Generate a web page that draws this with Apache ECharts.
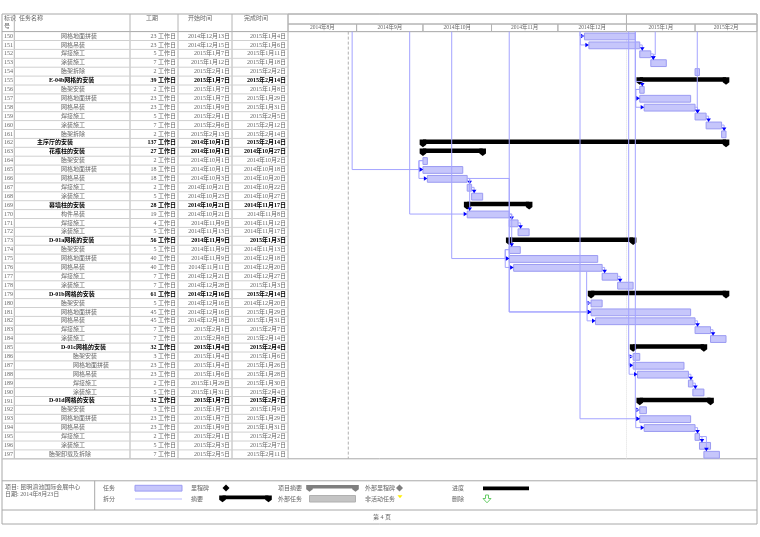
<!DOCTYPE html>
<html>
<head>
<meta charset="utf-8">
<title>甘特图</title>
<script src="https://cdn.jsdelivr.net/npm/echarts@6.0.0/dist/echarts.min.js"></script>
<style>
html, body { margin: 0; padding: 0; background: #fff; }
#c1 { width: 760px; height: 537px; }
</style>
</head>
<body>
<div id="c1"></div>
<script>
// task table, as read from the print
var ids = [150,151,152,153,154,155,156,157,158,159,160,161,162,163,164,165,166,167,168,169,170,171,172,173,
           174,175,176,177,178,179,180,181,182,183,184,185,186,187,188,189,190,191,192,193,194,195,196,197];
var names = ['网格地面拼装','网格吊装','焊接施工','涂装施工','胎架拆除','E-04b网格的安装','胎架安装','网格地面拼装',
             '网格吊装','焊接施工','涂装施工','胎架拆除','主序厅的安装','花瓶柱的安装','胎架安装','网格地面拼装',
             '网格吊装','焊接施工','涂装施工','幕墙柱的安装','构件吊装','焊接施工','涂装施工','D-01a网格的安装',
             '胎架安装','网格地面拼装','网格吊装','焊接施工','涂装施工','D-01b网格的安装','胎架安装','网格地面拼装',
             '网格吊装','焊接施工','涂装施工','D-01c网格的安装','胎架安装','网格地面拼装','网格吊装','焊接施工',
             '涂装施工','D-01d网格的安装','胎架安装','网格地面拼装','网格吊装','焊接施工','涂装施工','胎架卸载及拆除'];
var levels = [3,3,3,3,3,2,3,3,3,3,3,3,1,2,3,3,3,3,3,2,3,3,3,2,
              3,3,3,3,3,2,3,3,3,3,3,3,4,4,4,4,4,2,3,3,3,3,3,2];
var summary = [0,0,0,0,0,1,0,0,0,0,0,0,1,1,0,0,0,0,0,1,0,0,0,1,
               0,0,0,0,0,1,0,0,0,0,0,1,0,0,0,0,0,1,0,0,0,0,0,0];
var durations = [23,23,5,7,2,39,2,23,23,5,7,2,137,27,2,18,18,2,5,28,19,4,5,56,
                 5,40,40,7,7,61,5,45,45,7,7,32,3,23,23,2,5,32,3,23,23,2,5,7];
var starts = ['2014-12-13','2014-12-15','2015-01-07','2015-01-12','2015-02-01','2015-01-07','2015-01-07','2015-01-07',
              '2015-01-09','2015-02-01','2015-02-06','2015-02-13','2014-10-01','2014-10-01','2014-10-01','2014-10-01',
              '2014-10-03','2014-10-21','2014-10-23','2014-10-21','2014-10-21','2014-11-09','2014-11-13','2014-11-09',
              '2014-11-09','2014-11-09','2014-11-11','2014-12-21','2014-12-28','2014-12-16','2014-12-16','2014-12-16',
              '2014-12-18','2015-02-01','2015-02-08','2015-01-04','2015-01-04','2015-01-04','2015-01-06','2015-01-29',
              '2015-01-31','2015-01-07','2015-01-07','2015-01-07','2015-01-09','2015-02-01','2015-02-03','2015-02-05'];
var finishes = ['2015-01-04','2015-01-06','2015-01-11','2015-01-18','2015-02-02','2015-02-14','2015-01-08','2015-01-29',
                '2015-01-31','2015-02-05','2015-02-12','2015-02-14','2015-02-14','2014-10-27','2014-10-02','2014-10-18',
                '2014-10-20','2014-10-22','2014-10-27','2014-11-17','2014-11-08','2014-11-12','2014-11-17','2015-01-03',
                '2014-11-13','2014-12-18','2014-12-20','2014-12-27','2015-01-03','2015-02-14','2014-12-20','2015-01-29',
                '2015-01-31','2015-02-07','2015-02-14','2015-02-04','2015-01-06','2015-01-26','2015-01-28','2015-01-30',
                '2015-02-04','2015-02-07','2015-01-09','2015-01-29','2015-01-31','2015-02-02','2015-02-07','2015-02-11'];

// links between tasks on this page: [from, to, type, (via date)]
var links = [[150,151,'ss'],[151,152,'fs'],[152,153,'fs'],
             [156,157,'ss'],[156,158,'ss'],[158,159,'fs'],[159,160,'fs'],[160,161,'fs'],
             [164,165,'ss'],[164,166,'ss'],[166,167,'fs'],[167,168,'fs'],[166,170,'fs'],
             [170,171,'fs'],[171,172,'fs'],[170,174,'fs'],[166,181,'fx','2014-11-09'],
             [174,175,'ss'],[174,176,'ss'],[176,177,'fs'],[177,178,'fs'],
             [180,181,'ss'],[180,182,'ss'],[182,183,'fs'],[183,184,'fs'],
             [186,187,'ss'],[186,188,'ss'],[188,189,'fs'],[189,190,'fs'],
             [192,193,'ss'],[192,194,'ss'],[194,195,'fs'],[195,196,'fs'],[195,197,'fs']];

// links coming in from tasks on earlier pages
var extX    = ['2014-08-30','2014-09-25','2014-10-14','2014-11-09','2014-12-11','2014-12-11','2015-01-02','2015-01-05','2015-01-05','2015-01-14','2015-02-02','2014-12-14'];
var extFrom = [null,null,null,null,null,null,null,null,null,null,null,176];
var extTo   = [165,170,175,181,193,150,186,192,156,153,159,180];
var extMode = ['side','side','side','side','side','side','side','side','top','top','top','side'];

// timescale
var monthStarts = ['2014-08-01','2014-09-01','2014-10-01','2014-11-01','2014-12-01','2015-01-01','2015-02-01','2015-03-01'];
var monthLabels = ['2014年8月','2014年9月','2014年10月','2014年11月','2014年12月','2015年1月','2015年2月'];
var yearStarts = ['2014-08-01','2015-01-01','2015-03-01'];
var vlineDates = ['2014-08-28','2015-01-01'];

var DAY = 86400000;
var FONT = '"Liberation Serif", "Noto Sans CJK SC", serif';
var GT = 31.6, ROWH = 8.9, GH = ROWH * ids.length;
var TEXT = '#666', GRID = '#b4b4b4';
var BAR_FILL = '#c6c6fb', BAR_LINE = '#9b9bf2', LINK = '#a4a4ff', ARROW = '#0000ff';

function day(s) {
    var p = s.split('-');
    return new Date(+p[0], +p[1] - 1, +p[2]).getTime();
}
function cn(s) {
    var p = s.split('-');
    return p[0] + '年' + (+p[1]) + '月' + (+p[2]) + '日';
}
var xMin = day(monthStarts[0]);

function txt(s, x, y, fill, font, align) {
    return {type: 'text', x: x, y: y, silent: true,
        style: {text: s, fill: fill, font: font, align: align || 'left', verticalAlign: 'middle',
                textAlign: align || 'left', textVerticalAlign: 'middle'}};
}
function rightArrow(x, y) {
    return {type: 'polygon', shape: {points: [[x, y], [x - 3.5, y - 2.3], [x - 3.5, y + 2.3]]}, style: {fill: ARROW}};
}
function downArrow(x, y) {
    return {type: 'polygon', shape: {points: [[x, y], [x - 2.3, y - 3.5], [x + 2.3, y - 3.5]]}, style: {fill: ARROW}};
}
function poly(pts) {
    return {type: 'polyline', shape: {points: pts}, style: {stroke: LINK, lineWidth: 1, fill: null}};
}
function cap(x, top, h, color) {
    return {type: 'polygon', shape: {points: [[x - 3.3, top], [x + 3.3, top], [x + 3.3, top + h + 0.6],
        [x, top + h + 3.1], [x - 3.3, top + h + 0.6]]}, style: {fill: color}};
}

var dom = document.getElementById("c1");
var myChart = echarts.init(dom);

// rendering; every data item is [x, rowIndex, ...extra]
function renderYear(params, api) {
    var x0 = api.coord([api.value(0), 0])[0], x1 = api.coord([api.value(2), 0])[0];
    return {type: 'rect', shape: {x: x0, y: 14, width: x1 - x0, height: 10},
        style: {fill: null, stroke: GRID, lineWidth: 1}};
}
function renderMonth(params, api) {
    var x0 = api.coord([api.value(0), 0])[0], x1 = api.coord([api.value(2), 0])[0];
    return {type: 'group', children: [
        {type: 'rect', shape: {x: x0, y: 24, width: x1 - x0, height: GT - 24},
            style: {fill: null, stroke: GRID, lineWidth: 1}},
        txt(monthLabels[api.value(3)], (x0 + x1) / 2, 28, TEXT, '5.5px ' + FONT, 'center')
    ]};
}
function renderVline(params, api) {
    var x = api.coord([api.value(0), 0])[0];
    var k = api.value(2);
    return {type: 'line', shape: {x1: x, y1: GT, x2: x, y2: GT + GH},
        style: k === 0 ? {stroke: '#b0b0b0', lineWidth: 1, lineDash: [3, 2]}
                       : {stroke: '#dedede', lineWidth: 1, lineDash: [1, 1]}};
}
function renderRow(params, api) {
    var i = api.value(1);
    var c = api.coord([api.value(0), i])[1];
    var col = summary[i] ? '#000' : TEXT;
    var font = (summary[i] ? 'bold ' : '') + '6px ' + FONT;
    return {type: 'group', children: [
        {type: 'line', shape: {x1: 2, y1: c + ROWH / 2, x2: 288, y2: c + ROWH / 2},
            style: {stroke: '#d0d0d0', lineWidth: 1}},
        txt(String(ids[i]), 4, c, TEXT, '6px ' + FONT),
        txt(names[i], 25 + levels[i] * 12, c, col, font),
        txt(durations[i] + ' 工作日', 176, c, col, font, 'right'),
        txt(cn(starts[i]), 230, c, col, font, 'right'),
        txt(cn(finishes[i]), 286, c, col, font, 'right')
    ]};
}
function renderBar(params, api) {
    var i = api.value(1);
    var p0 = api.coord([api.value(0), i]);
    var p1 = api.coord([api.value(2), i]);
    var c = p0[1];
    if (api.value(3)) {
        return {type: 'group', children: [
            {type: 'rect', shape: {x: p0[0], y: c - 3.3, width: p1[0] - p0[0], height: 4.5}, style: {fill: '#000'}},
            cap(p0[0], c - 3.3, 4.5, '#000'),
            cap(p1[0], c - 3.3, 4.5, '#000')
        ]};
    }
    return {type: 'rect', shape: {x: p0[0], y: c - 3, width: p1[0] - p0[0], height: 6.8},
        style: {fill: BAR_FILL, stroke: BAR_LINE, lineWidth: 1}};
}
function renderLink(params, api) {
    var l = links[api.value(2)];
    var a = ids.indexOf(l[0]), b = ids.indexOf(l[1]);
    var ya = api.coord([xMin, a])[1], yb = api.coord([xMin, b])[1];
    var xs = api.coord([day(starts[b]), b])[0];
    if (l[2] === 'ss') {
        var x0 = api.coord([day(starts[a]), a])[0];
        return {type: 'group', children: [
            poly([[x0, ya], [x0 - 4, ya], [x0 - 4, yb], [xs - 1, yb]]), rightArrow(xs, yb)]};
    }
    var xe = api.coord([day(finishes[a]) + DAY, a])[0];
    if (l[2] === 'fx') {
        var xv = api.coord([day(l[3]), a])[0];
        return {type: 'group', children: [
            poly([[xe, ya], [xv, ya], [xv, yb], [xs - 1, yb]]), rightArrow(xs, yb)]};
    }
    var xa = xs + 2.5, tb = yb - 3;
    return {type: 'group', children: [
        poly([[xe, ya], [xa, ya], [xa, tb - 2]]), downArrow(xa, tb)]};
}
function renderExt(params, api) {
    var k = api.value(2);
    var b = ids.indexOf(extTo[k]);
    var yb = api.coord([xMin, b])[1];
    var xv = api.coord([day(extX[k]), b])[0];
    var xs = api.coord([day(starts[b]), b])[0];
    var y0 = extFrom[k] == null ? GT : api.coord([xMin, ids.indexOf(extFrom[k])])[1] + 4;
    if (extMode[k] === 'side') {
        return {type: 'group', children: [poly([[xv, y0], [xv, yb], [xs - 1, yb]]), rightArrow(xs, yb)]};
    }
    var tb = yb - 3;
    return {type: 'group', children: [
        poly([[xv, y0], [xv, tb - 5], [xs + 2.5, tb - 5], [xs + 2.5, tb - 2]]), downArrow(xs + 2.5, tb)]};
}

// page frame, table header and legend
var G = [];
function gLine(x1, y1, x2, y2, color) {
    G.push({type: 'line', silent: true, shape: {x1: x1, y1: y1, x2: x2, y2: y2},
        style: {stroke: color || GRID, lineWidth: 1}});
}
function gText(s, x, y, align, font) {
    G.push(txt(s, x, y, TEXT, (font || '6px ') + FONT, align));
}
G.push({type: 'rect', silent: true, shape: {x: 2, y: 14, width: 755, height: 510},
    style: {fill: null, stroke: '#a8a8a8', lineWidth: 1}});
gLine(2, GT, 757, GT, '#a8a8a8');
[14.3, 130, 178, 232, 288].forEach(function (x) { gLine(x, 14, x, GT + GH); });
gLine(2, GT + GH, 757, GT + GH, '#a8a8a8');
gLine(2, 480.8, 757, 480.8, '#a8a8a8');
gLine(2, 510, 757, 510, '#a8a8a8');
gLine(94.7, 480.8, 94.7, 510, '#a8a8a8');
gText('标识', 4, 18.5);
gText('号', 4, 26.5);
gText('任务名称', 19, 18.5);
gText('工期', 152, 18.5, 'center');
gText('开始时间', 200, 18.5, 'center');
gText('完成时间', 256, 18.5, 'center');

gText('项目: 昆明滇池国际会展中心', 5, 487.5);
gText('日期: 2014年8月23日', 5, 494.5);
gText('任务', 103, 488.3);
gText('拆分', 103, 499);
gText('里程碑', 191, 488.3);
gText('摘要', 191, 499);
gText('项目摘要', 278, 488.3);
gText('外部任务', 278, 499);
gText('外部里程碑', 365, 488.3);
gText('非活动任务', 365, 499);
gText('进度', 452, 488.3);
gText('删除', 452, 499);
gText('第 4 页', 382, 517.5, 'center');
G.push({type: 'rect', silent: true, shape: {x: 135, y: 485.3, width: 47, height: 5.8},
    style: {fill: BAR_FILL, stroke: BAR_LINE, lineWidth: 1}});
gLine(135, 499, 182, 499, '#b8b8ff');
G.push({type: 'polygon', silent: true, shape: {points: [[226, 484.5], [229.5, 488], [226, 491.5], [222.5, 488]]},
    style: {fill: '#000'}});
G.push({type: 'rect', silent: true, shape: {x: 222.5, y: 495.6, width: 46, height: 3.6}, style: {fill: '#000'}});
G.push(cap(222.5, 495.6, 3.6, '#000'), cap(268.5, 495.6, 3.6, '#000'));
G.push({type: 'rect', silent: true, shape: {x: 309.5, y: 485, width: 46, height: 3.6}, style: {fill: '#7f7f7f'}});
G.push(cap(309.5, 485, 3.6, '#7f7f7f'), cap(355.5, 485, 3.6, '#7f7f7f'));
G.push({type: 'rect', silent: true, shape: {x: 309.5, y: 495.5, width: 46, height: 6.5},
    style: {fill: '#c4c4c4', stroke: '#b0b0b0', lineWidth: 1}});
G.push({type: 'polygon', silent: true, shape: {points: [[399.5, 484.5], [403, 488], [399.5, 491.5], [396, 488]]},
    style: {fill: '#7f7f7f'}});
G.push({type: 'polygon', silent: true, shape: {points: [[397.5, 495.3], [402.5, 495.3], [400, 498.3]]},
    style: {fill: '#ffee00'}});
G.push({type: 'rect', silent: true, shape: {x: 483, y: 486.5, width: 46, height: 3.8}, style: {fill: '#000'}});
G.push({type: 'polygon', silent: true,
    shape: {points: [[485.5, 495], [488.5, 495], [488.5, 498.5], [491, 498.5], [487, 502.8], [483, 498.5], [485.5, 498.5]]},
    style: {fill: '#fff', stroke: '#66cc66', lineWidth: 1}});

var XY = {x: 0, y: 1};
option = null;
option = {
    animation: false,
    graphic: G,
    grid: {left: 288, top: GT, width: 469, height: GH, show: false},
    xAxis: {type: 'time', min: xMin, max: day(monthStarts[monthStarts.length - 1]), show: false},
    yAxis: {type: 'category', data: ids.map(String), inverse: true, show: false},
    series: [
        {
            type: 'custom', name: 'years', silent: true, renderItem: renderYear, encode: XY,
            data: yearStarts.slice(0, -1).map(function (s, k) { return [day(s), 0, day(yearStarts[k + 1])]; })
        },
        {
            type: 'custom', name: 'months', silent: true, renderItem: renderMonth, encode: XY,
            data: monthLabels.map(function (s, k) { return [day(monthStarts[k]), 0, day(monthStarts[k + 1]), k]; })
        },
        {
            type: 'custom', name: 'table', silent: true, renderItem: renderRow, encode: XY,
            data: ids.map(function (id, i) { return [xMin, i]; })
        },
        {
            type: 'custom', name: 'grid lines', silent: true, renderItem: renderVline, encode: XY,
            data: vlineDates.map(function (s, k) { return [day(s) + (k === 0 ? 6 * 3600000 : 0), 0, k]; })
        },
        {
            type: 'custom', name: 'bars', silent: true, renderItem: renderBar, encode: XY,
            data: ids.map(function (id, i) { return [day(starts[i]), i, day(finishes[i]) + DAY, summary[i]]; })
        },
        {
            type: 'custom', name: 'ext', silent: true, renderItem: renderExt, encode: XY,
            data: extTo.map(function (t, k) { return [xMin, ids.indexOf(t), k]; })
        },
        {
            type: 'custom', name: 'links', silent: true, renderItem: renderLink, encode: XY,
            data: links.map(function (l, k) { return [xMin, ids.indexOf(l[1]), k]; })
        }
    ]
};
if (option && typeof option === "object") {
    myChart.setOption(option, true);
}
</script>
</body>
</html>
